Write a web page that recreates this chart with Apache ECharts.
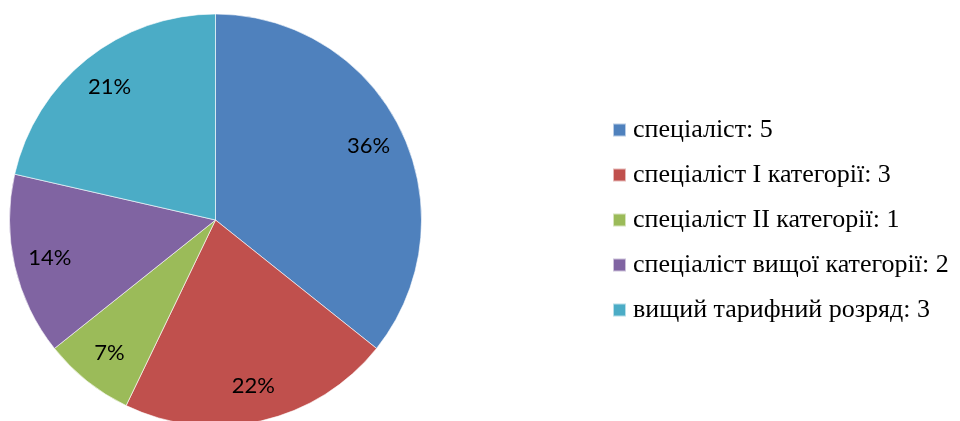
<!DOCTYPE html>
<html>
<head>
<meta charset="utf-8">
<script src="https://cdn.jsdelivr.net/npm/echarts@6/dist/echarts.min.js"></script>
<style>
  html, body { margin: 0; padding: 0; background: #fff; }
  #main { width: 960px; height: 421px; }
</style>
</head>
<body>
<div id="main"></div>
<script>
// категорії та значення
var names = ['спеціаліст', 'спеціаліст I категорії', 'спеціаліст II категорії', 'спеціаліст вищої категорії', 'вищий тарифний розряд'];
var values = [5, 3, 1, 2, 3];
var pctLabels = ['36%', '22%', '7%', '14%', '21%'];
var colors = ['#4F81BD', '#C0504D', '#9BBB59', '#8064A2', '#4BACC6'];

var chart = echarts.init(document.getElementById('main'));

var pieData = [];
var labelData = [];
for (var i = 0; i < names.length; i++) {
  pieData.push({ name: names[i], value: values[i] });
  labelData.push({ name: names[i], value: values[i] });
}

var option = {
  animation: false,
  color: colors,
  legend: {
    orient: 'vertical',
    left: 612,
    top: 116,
    padding: 0,
    itemWidth: 13,
    itemHeight: 13,
    itemGap: 17,
    icon: 'rect',
    textStyle: {
      fontFamily: 'Liberation Serif',
      fontSize: 26,
      color: '#000',
      lineHeight: 28,
      padding: [0, 0, 0, 2]
    },
    formatter: function (name) {
      var idx = names.indexOf(name);
      return name + ': ' + values[idx];
    },
    data: names
  },
  series: [
    {
      type: 'pie',
      center: [215.5, 220],
      radius: [0, 206],
      startAngle: 90,
      clockwise: true,
      silent: true,
      label: { show: false },
      labelLine: { show: false },
      itemStyle: { borderColor: 'rgba(255,255,255,0.6)', borderWidth: 1 },
      data: pieData
    },
    {
      // прозорий шар лише для підписів відсотків
      type: 'pie',
      center: [215.5, 220],
      radius: [128, 206],
      startAngle: 90,
      clockwise: true,
      silent: true,
      legendHoverLink: false,
      itemStyle: { color: 'rgba(0,0,0,0)' },
      label: {
        show: true,
        position: 'inside',
        fontFamily: 'Lato',
        fontSize: 22,
        color: '#000',
        formatter: function (p) { return pctLabels[p.dataIndex]; }
      },
      labelLine: { show: false },
      data: labelData
    }
  ]
};
chart.setOption(option);
</script>
</body>
</html>
